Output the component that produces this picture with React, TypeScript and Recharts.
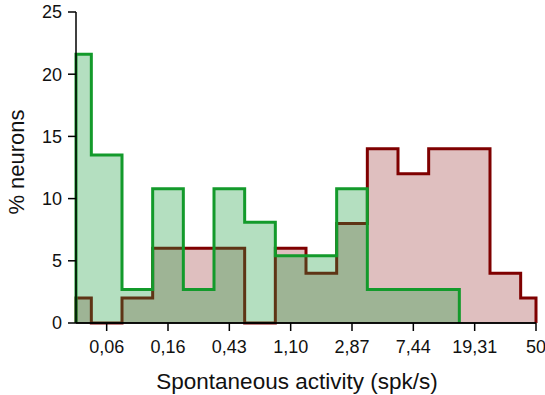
import { AreaChart, Area, XAxis, YAxis, Label, ReferenceLine } from 'recharts'

// tick labels on the log-spaced x axis, one per tick position 0..7
const tickLabels = ['0,06', '0,16', '0,43', '1,10', '2,87', '7,44', '19,31', '50']
const tickPos = [0, 1, 2, 3, 4, 5, 6, 7]

// bin edges, in tick-position units (each bin is half a tick apart)
const binEdges = [-0.5, -0.25, 0.25, 0.75, 1.25, 1.75, 2.25, 2.75, 3.25, 3.75, 4.25, 4.75, 5.25, 5.75, 6.25, 6.75, 7]

// % neurons per bin
const greenBins = [21.6, 13.5, 2.7, 10.8, 2.7, 10.8, 8.1, 5.4, 5.4, 10.8, 2.7, 2.7, 2.7, 0, 0, 0]
const redBins = [2, 0, 2, 6, 6, 6, 0, 6, 4, 8, 14, 12, 14, 14, 4, 2]
const greenLastEdge = 13 // green histogram stops at this edge

const yTicks = [0, 5, 10, 15, 20, 25]

const data = [
  { x: binEdges[0], green: 0, red: 0 },
  ...binEdges.map((x, i) => ({
    x,
    red: i < redBins.length ? redBins[i] : 0,
    green: i < greenLastEdge ? greenBins[i] : i === greenLastEdge ? 0 : null,
  })),
]

const font = 'Liberation Sans, Arial, sans-serif'

export default function App() {
  return (
    <div style={{ position: 'absolute', left: 0, top: 0, background: '#fff' }}>
      <AreaChart width={545} height={395} data={data} margin={{ top: 12, right: 9, left: 0, bottom: 0 }}>
        <XAxis
          dataKey="x"
          type="number"
          domain={[-0.5, 7]}
          ticks={tickPos}
          tickFormatter={(v: number) => tickLabels[v]}
          interval={0}
          height={72}
          stroke="#000"
          strokeWidth={1.5}
          tickSize={8}
          tickMargin={9}
          tick={{ fill: '#111', fontSize: 18, fontFamily: font }}
        >
          <Label
            value="Spontaneous activity (spk/s)"
            position="insideBottom"
            offset={6}
            dx={-9}
            style={{ fill: '#111', fontSize: 22.5, fontFamily: font }}
          />
        </XAxis>
        <YAxis
          domain={[0, 25]}
          ticks={yTicks}
          width={76}
          stroke="#000"
          strokeWidth={1.5}
          tickSize={8}
          tickMargin={6}
          tick={{ fill: '#111', fontSize: 18, fontFamily: font }}
        >
          <Label
            content={() => (
              <text
                x={0}
                y={0}
                transform="translate(24,162) rotate(-90)"
                textAnchor="middle"
                fill="#111"
                fontSize={22}
                fontFamily={font}
              >
                % neurons
              </text>
            )}
          />
        </YAxis>
        <Area
          type="stepAfter"
          dataKey="red"
          stroke="#7f0000"
          strokeWidth={3}
          fill="#800000"
          fillOpacity={0.25}
          isAnimationActive={false}
          dot={false}
          activeDot={false}
        />
        <Area
          type="stepAfter"
          dataKey="green"
          stroke="#139a2b"
          strokeWidth={3}
          fill="#1c9e40"
          fillOpacity={0.33}
          isAnimationActive={false}
          dot={false}
          activeDot={false}
        />
        <ReferenceLine y={0} stroke="#000" strokeWidth={1.5} />
      </AreaChart>
    </div>
  )
}
